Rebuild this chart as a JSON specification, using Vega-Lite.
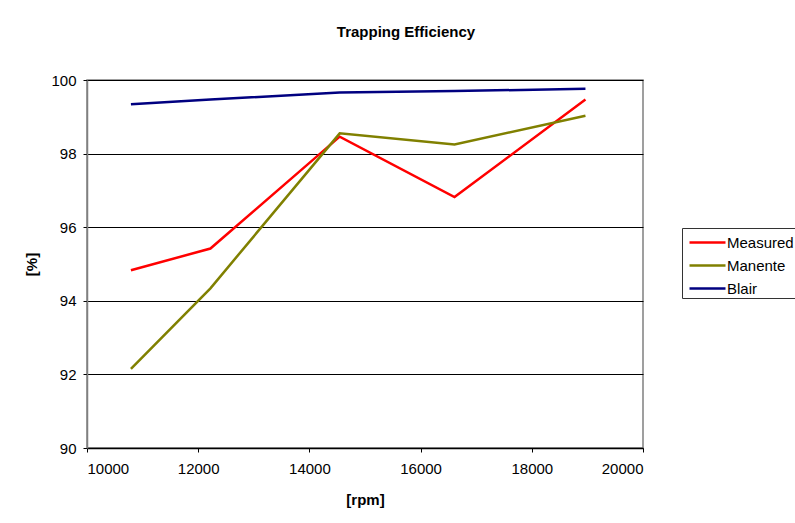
{
  "$schema": "https://vega.github.io/schema/vega-lite/v6.json",
  "width": 556,
  "height": 368,
  "autosize": {"type": "none"},
  "padding": {"left": 87, "top": 80, "right": 152, "bottom": 75},
  "background": "white",
  "title": {
    "text": "Trapping Efficiency",
    "font": "Liberation Sans",
    "fontSize": 15,
    "fontWeight": "bold",
    "color": "black",
    "anchor": "middle",
    "offset": 33,
    "dx": 41
  },
  "config": {
    "view": {"stroke": "#808080", "strokeWidth": 1.5},
    "font": "Liberation Sans"
  },
  "data": {
    "values": [
      {"rpm": 10790, "value": 94.83, "series": "Measured"},
      {"rpm": 12220, "value": 95.42, "series": "Measured"},
      {"rpm": 14545, "value": 98.46, "series": "Measured"},
      {"rpm": 16610, "value": 96.82, "series": "Measured"},
      {"rpm": 18965, "value": 99.47, "series": "Measured"},
      {"rpm": 10790, "value": 92.15, "series": "Manente"},
      {"rpm": 12220, "value": 94.34, "series": "Manente"},
      {"rpm": 14545, "value": 98.55, "series": "Manente"},
      {"rpm": 16610, "value": 98.25, "series": "Manente"},
      {"rpm": 18965, "value": 99.03, "series": "Manente"},
      {"rpm": 10790, "value": 99.34, "series": "Blair"},
      {"rpm": 12220, "value": 99.47, "series": "Blair"},
      {"rpm": 14545, "value": 99.66, "series": "Blair"},
      {"rpm": 16610, "value": 99.70, "series": "Blair"},
      {"rpm": 18965, "value": 99.76, "series": "Blair"}
    ]
  },
  "mark": {"type": "line", "strokeWidth": 2.5},
  "encoding": {
    "x": {
      "field": "rpm",
      "type": "quantitative",
      "scale": {"domain": [10000, 20000], "nice": false},
      "axis": {
        "title": "[rpm]",
        "titleFont": "Liberation Sans",
        "titleFontSize": 15,
        "titleFontWeight": "bold",
        "titleColor": "black",
        "titlePadding": 16,
        "values": [10000, 12000, 14000, 16000, 18000, 20000],
        "format": "d",
        "labelFont": "Liberation Sans",
        "labelFontSize": 15,
        "labelColor": "black",
        "labelPadding": 9,
        "domainColor": "black",
        "domainWidth": 1.5,
        "tickColor": "black",
        "tickSize": 4,
        "grid": false
      }
    },
    "y": {
      "field": "value",
      "type": "quantitative",
      "scale": {"domain": [90, 100], "nice": false},
      "axis": {
        "title": "[%]",
        "titleFont": "Liberation Sans",
        "titleFontSize": 15,
        "titleFontWeight": "bold",
        "titleColor": "black",
        "titlePadding": 11,
        "values": [90, 92, 94, 96, 98, 100],
        "labelFont": "Liberation Sans",
        "labelFontSize": 15,
        "labelColor": "black",
        "labelPadding": 7,
        "domainColor": "#808080",
        "domainWidth": 1.5,
        "tickColor": "black",
        "tickSize": 4,
        "grid": true,
        "gridColor": "black",
        "gridWidth": 1
      }
    },
    "color": {
      "field": "series",
      "type": "nominal",
      "scale": {
        "domain": ["Measured", "Manente", "Blair"],
        "range": ["#ff0000", "#808000", "#000080"]
      },
      "legend": {
        "title": null,
        "orient": "none",
        "legendX": 595,
        "legendY": 148,
        "symbolType": "M-0.583,0H2.417",
        "symbolStrokeWidth": 2.5,
        "symbolSize": 576,
        "labelFont": "Liberation Sans",
        "labelFontSize": 15,
        "labelColor": "black",
        "labelOffset": 17,
        "rowPadding": 1,
        "padding": 1,
        "strokeColor": "#333333",
        "fillColor": "white"
      }
    }
  }
}
